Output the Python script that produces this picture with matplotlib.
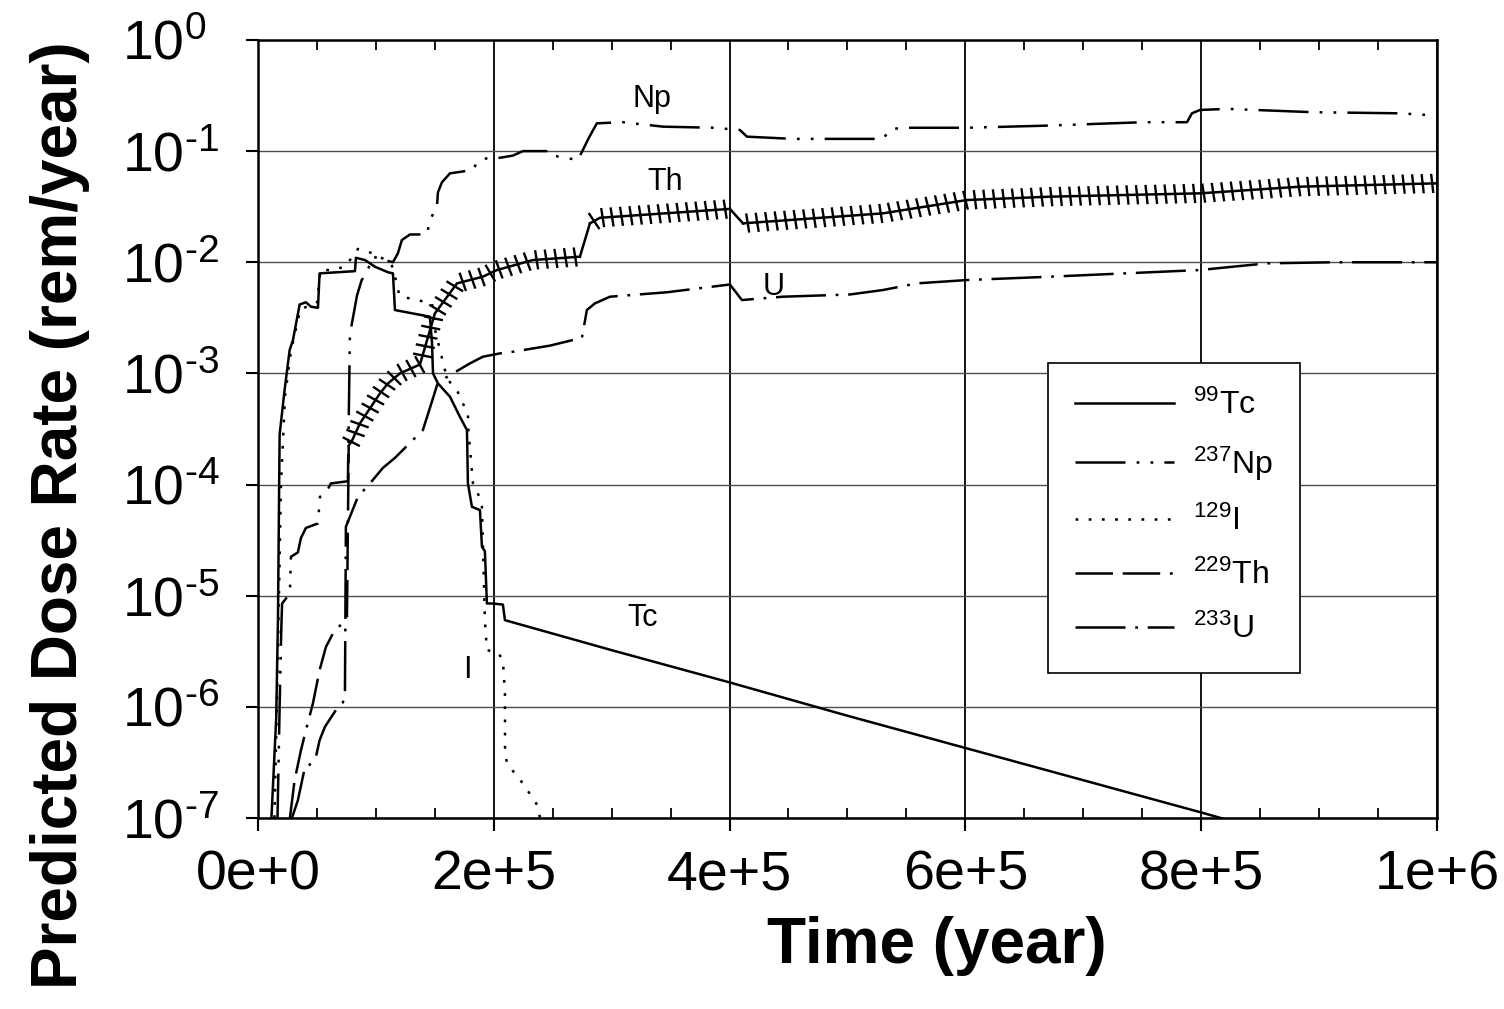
import numpy as np
import matplotlib.pyplot as plt
from matplotlib import patheffects as pe
from matplotlib.ticker import LogLocator, MultipleLocator, NullFormatter

plt.rcParams['font.family'] = ['Liberation Sans', 'DejaVu Sans']
plt.rcParams['mathtext.fontset'] = 'custom'
plt.rcParams['mathtext.rm'] = 'Liberation Sans'
plt.rcParams['lines.scale_dashes'] = False

# %% data (time in years, log10 of dose rate)
tc_t   = [11000, 15500, 17000, 18000, 18400, 22600, 26900, 29700, 35400, 40700,
          45000, 50900, 52300, 82300, 83100, 90800, 99200, 110300, 114500, 116200,
          145900, 147600, 148500, 152700, 162900, 171300, 177300, 178100, 181500, 188300,
          190000, 192500, 194200, 199300, 207800, 209500, 300000, 400000, 500000, 600000,
          700000, 800000, 820000]
tc_log = [-7.1, -6.1, -5.2, -4.0, -3.55, -3.15, -2.79, -2.70, -2.38, -2.36,
          -2.40, -2.41, -2.10, -2.08, -1.96, -1.98, -2.04, -2.09, -2.10, -2.43,
          -2.49, -2.72, -3.0, -3.09, -3.21, -3.39, -3.51, -3.99, -4.2, -4.23,
          -4.56, -4.6, -5.07, -5.07, -5.08, -5.22, -5.49, -5.78, -6.08, -6.37,
          -6.66, -6.95, -7.01]

np_t   = [16500, 18400, 19800, 20500, 27100, 28000, 33900, 36500, 40700, 50900,
          52600, 56800, 61900, 76300, 78000, 84000, 88000, 92000, 97500, 114500,
          118700, 122100, 129000, 143300, 145900, 151800, 152700, 156100, 162900, 182400,
          185800, 195100, 205300, 216300, 224800, 247700, 250200, 260400, 271400, 280700,
          287500, 309600, 343500, 385900, 408800, 414800, 453800, 530100, 536000, 544500,
          601400, 671800, 750600, 788000, 792200, 799000, 821900, 894800, 968600, 1000000]
np_log = [-7.05, -6.0, -5.3, -5.07, -4.98, -4.65, -4.61, -4.48, -4.39, -4.35,
          -4.11, -4.09, -3.99, -3.97, -2.65, -2.3, -2.16, -2.1, -1.95, -2.0,
          -1.92, -1.80, -1.75, -1.75, -1.62, -1.50, -1.37, -1.28, -1.20, -1.17,
          -1.10, -1.06, -1.06, -1.04, -1.0, -1.0, -1.04, -1.06, -1.08, -0.88,
          -0.75, -0.74, -0.78, -0.79, -0.81, -0.87, -0.89, -0.89, -0.81, -0.79,
          -0.79, -0.77, -0.74, -0.74, -0.66, -0.63, -0.62, -0.65, -0.66, -0.68]

i_t    = [14000, 17000, 19500, 23000, 28000, 36000, 50000, 53000, 62000, 74000,
          84800, 97500, 112000, 114500, 120000, 126400, 147600, 150000, 158600, 162900,
          169600, 173800, 178100, 178500, 182400, 186600, 190000, 192500, 194200, 203500,
          207800, 209500, 209600, 211200, 224800, 236700, 239300, 245000]
i_log  = [-7.0, -5.5, -4.0, -3.2, -2.8, -2.42, -2.37, -2.07, -2.07, -2.04,
          -1.88, -1.92, -2.0, -2.05, -2.30, -2.32, -2.37, -2.6, -2.97, -3.08,
          -3.17, -3.27, -3.36, -3.51, -3.99, -4.08, -4.2, -5.22, -5.49, -5.51,
          -5.58, -5.88, -6.39, -6.51, -6.69, -6.88, -7.0, -7.3]

th_t   = [26900, 31100, 36500, 40700, 46600, 52300, 57700, 63600, 73800, 75500,
          77000, 80000, 86500, 103500, 110300, 120400, 137400, 150100, 168800, 190800,
          202700, 233200, 273100, 281600, 290100, 400300, 411400, 530100, 601400, 671800,
          799000, 883800, 1000000]
th_log = [-7.02, -6.66, -6.39, -6.21, -5.97, -5.67, -5.46, -5.34, -5.22, -5.2,
          -3.65, -3.6, -3.45, -3.18, -3.09, -3.0, -2.92, -2.46, -2.19, -2.13,
          -2.07, -1.98, -1.95, -1.65, -1.60, -1.52, -1.65, -1.56, -1.44, -1.41,
          -1.38, -1.32, -1.29]
# index ranges of the sawtooth stretches (the jumps between them are plain)
th_saw = [(10, 23), (23, 26), (26, 33)]

u_t    = [28200, 33900, 39900, 42400, 49200, 52300, 56800, 67900, 72100, 73800,
          74600, 84800, 95800, 106000, 116200, 139900, 145900, 152700, 179800, 190800,
          205300, 213700, 247700, 274800, 279000, 285800, 298600, 346900, 400300, 410500,
          445300, 502100, 530100, 558900, 601400, 671800, 714200, 799000, 827000, 855800,
          911800, 1000000]
u_log  = [-7.02, -6.84, -6.54, -6.54, -6.45, -6.30, -6.18, -6.0, -5.96, -5.88,
          -4.38, -4.11, -3.98, -3.85, -3.76, -3.51, -3.31, -3.08, -2.91, -2.85,
          -2.82, -2.81, -2.75, -2.68, -2.43, -2.37, -2.31, -2.27, -2.20, -2.34,
          -2.31, -2.29, -2.25, -2.19, -2.16, -2.13, -2.11, -2.07, -2.04, -2.01,
          -2.0, -2.0]

xtick_vals   = [0, 2e5, 4e5, 6e5, 8e5, 1e6]
xtick_labels = ['0e+0', '2e+5', '4e+5', '6e+5', '8e+5', '1e+6']
ytick_exp    = [0, -1, -2, -3, -4, -5, -6, -7]

labels = {'Tc': (326500, -5.20), 'Np': (334200, -0.53), 'Th': (345200, -1.28),
          'U': (437700, -2.22), 'I': (177700, -5.67)}

# %%
fig = plt.figure(figsize=(15.04, 10.09), dpi=100)
ax = fig.add_axes([0.1715, 0.1893, 0.7839, 0.7711])

lw = 1.8
th_y = 10**np.array(th_log)
l_tc, = ax.plot(tc_t, 10**np.array(tc_log), color='k', lw=lw, label=r'$\mathregular{^{99}Tc}$')
l_np, = ax.plot(np_t, 10**np.array(np_log), color='k', lw=lw, dashes=(36, 8, 2, 8, 2, 8),
                label=r'$\mathregular{^{237}Np}$')
l_i, = ax.plot(i_t, 10**np.array(i_log), color='k', lw=lw, dashes=(2, 7.5),
               label=r'$\mathregular{^{129}I}$')
l_th, = ax.plot(th_t[:11], th_y[:11], color='k', lw=lw,
                dashes=(27, 7, 27, 7, 2, 7), label=r'$\mathregular{^{229}Th}$')
saw = [pe.Normal(),
       pe.TickedStroke(spacing=6.8, angle=95, length=0.9, linewidth=1.7),
       pe.TickedStroke(spacing=6.8, angle=-85, length=0.9, linewidth=1.7)]
for a, b in th_saw:
    ax.plot(th_t[a:b], th_y[a:b], color='k', lw=lw, path_effects=saw)
    if b < len(th_t):
        ax.plot(th_t[b - 1:b + 1], th_y[b - 1:b + 1], color='k', lw=lw)
l_u, = ax.plot(u_t, 10**np.array(u_log), color='k', lw=lw, dashes=(36, 7, 2, 7),
               label=r'$\mathregular{^{233}U}$')

for name, (xx, yy) in labels.items():
    ax.text(xx, 10**yy, name, fontsize=22, ha='center', va='center')

ax.set_yscale('log')
ax.set_xlim(0, 1e6)
ax.set_ylim(1e-7, 1)
ax.set_xticks(xtick_vals)
ax.set_xticklabels(xtick_labels)
ax.set_yticks([10.0**e for e in ytick_exp])
ax.set_yticklabels([r'$\mathregular{10^{%s}}$' % (str(e) if e >= 0 else r'\text{-}%d' % -e)
                    for e in ytick_exp])
ax.xaxis.set_minor_locator(MultipleLocator(5e4))
ax.yaxis.set_minor_locator(LogLocator(base=10, subs=np.arange(2, 10)))
ax.yaxis.set_minor_formatter(NullFormatter())

ax.tick_params(which='major', direction='out', length=9, width=1.5, labelsize=40,
               top=False, right=False, color='k')
ax.tick_params(axis='x', which='major', pad=14)
ax.tick_params(axis='y', which='major', pad=89)
ax.tick_params(which='minor', direction='in', length=7, width=1.3,
               top=True, right=True, bottom=True, left=True)
for lab in ax.get_yticklabels():
    lab.set_ha('left')

ax.xaxis.grid(True, which='major', color='k', lw=1.3)
ax.yaxis.grid(True, which='major', color='0.3', lw=1.0)
for s in ax.spines.values():
    s.set_linewidth(1.8)

ax.set_xlabel('Time (year)', fontsize=46, fontweight='bold')
ax.set_ylabel('Predicted Dose Rate (rem/year)', fontsize=46, fontweight='bold')
ax.xaxis.set_label_coords(0.576, -0.126)
ax.yaxis.set_label_coords(-0.1425, 0.389)

leg = ax.legend(handles=[l_tc, l_np, l_i, l_th, l_u], loc='upper left',
                bbox_to_anchor=(0.670, 0.585), borderaxespad=0, fontsize=23,
                handlelength=3.1, handletextpad=0.6, labelspacing=0.72,
                borderpad=0.85, fancybox=False, framealpha=1, edgecolor='k')
leg.get_frame().set_linewidth(1.2)

fig.savefig('out.png', dpi=100)
